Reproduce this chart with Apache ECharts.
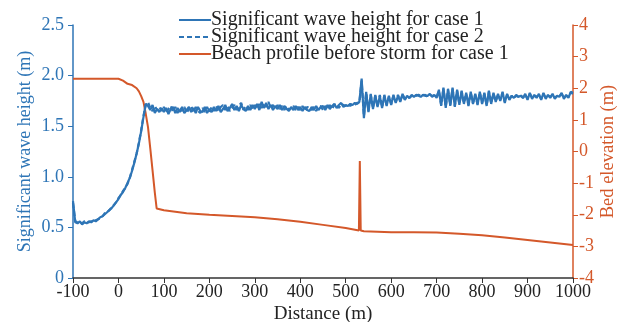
<!DOCTYPE html>
<html>
<head>
<meta charset="utf-8">
<script src="https://cdn.jsdelivr.net/npm/echarts@6/dist/echarts.min.js"></script>
<style>html,body{margin:0;padding:0;background:#fff}#c{width:623px;height:322px}</style>
</head>
<body>
<div id="c"></div>
<script>
const seriesNames = ['Significant wave height for case 1', 'Significant wave height for case 2', 'Beach profile before storm for case 1'];
const xTicks = [-100, 0, 100, 200, 300, 400, 500, 600, 700, 800, 900, 1000];
const leftTicks = [0, 0.5, 1.0, 1.5, 2.0, 2.5];
const rightTicks = [-4, -3, -2, -1, 0, 1, 2, 3, 4];

const waveDist = [
-100,-95,-90,-85,-80,-75,-70,-65,-60,-55,
-50,-45,-40,-35,-30,-25,-20,-15,-10,-5,
0,5,10,15,20,25,30,35,40,45,
50,55,60,65,70,75,80,85,90,95,
100,105,110,115,120,125,130,135,140,145,
150,155,160,165,170,175,180,185,190,195,
200,205,210,215,220,225,230,235,240,245,
250,255,260,265,270,275,280,285,290,295,
300,305,310,315,320,325,330,335,340,345,
350,355,360,365,370,375,380,385,390,395,
400,405,410,415,420,425,430,435,440,445,
450,455,460,465,470,475,480,485,490,495,
500,505,510,515,520,525,530,535,540,545,
550,555,560,565,570,575,580,585,590,595,
600,605,610,615,620,625,630,635,640,645,
650,655,660,665,670,675,680,685,690,695,
700,705,710,715,720,725,730,735,740,745,
750,755,760,765,770,775,780,785,790,795,
800,805,810,815,820,825,830,835,840,845,
850,855,860,865,870,875,880,885,890,895,
900,905,910,915,920,925,930,935,940,945,
950,955,960,965,970,975,980,985,990,995,
1000];

const hsCase1 = [
0.76,0.55,0.54,0.56,0.53,0.55,0.54,0.56,0.55,0.57,
0.56,0.58,0.60,0.61,0.63,0.65,0.67,0.69,0.72,0.75,
0.78,0.82,0.85,0.89,0.94,0.99,1.06,1.14,1.23,1.33,
1.45,1.59,1.72,1.70,1.66,1.71,1.63,1.67,1.64,1.68,
1.64,1.68,1.62,1.67,1.69,1.63,1.68,1.64,1.69,1.63,
1.66,1.69,1.64,1.68,1.63,1.69,1.65,1.64,1.69,1.63,
1.67,1.64,1.69,1.65,1.70,1.64,1.67,1.71,1.65,1.68,
1.72,1.66,1.70,1.65,1.71,1.67,1.65,1.70,1.66,1.71,
1.67,1.72,1.66,1.74,1.68,1.73,1.67,1.71,1.66,1.70,
1.67,1.71,1.66,1.70,1.67,1.65,1.69,1.66,1.70,1.66,
1.69,1.65,1.69,1.66,1.65,1.69,1.66,1.70,1.66,1.69,
1.70,1.66,1.71,1.67,1.70,1.72,1.68,1.71,1.73,1.69,
1.71,1.70,1.72,1.71,1.73,1.72,1.74,1.97,1.58,1.84,
1.64,1.82,1.67,1.81,1.69,1.80,1.68,1.81,1.70,1.80,
1.71,1.81,1.73,1.80,1.74,1.82,1.76,1.80,1.78,1.81,
1.79,1.81,1.80,1.79,1.81,1.80,1.80,1.82,1.79,1.81,
1.78,1.86,1.70,1.88,1.68,1.87,1.70,1.88,1.69,1.86,
1.71,1.85,1.72,1.83,1.70,1.84,1.72,1.82,1.71,1.84,
1.72,1.83,1.70,1.85,1.72,1.83,1.74,1.82,1.75,1.84,
1.73,1.82,1.76,1.80,1.78,1.81,1.79,1.80,1.78,1.82,
1.76,1.83,1.77,1.81,1.78,1.82,1.76,1.83,1.77,1.81,
1.78,1.82,1.77,1.80,1.79,1.83,1.77,1.81,1.78,1.84,
1.83];

const hsCase2 = [
0.74,0.56,0.55,0.55,0.54,0.56,0.55,0.55,0.56,0.56,
0.57,0.58,0.59,0.61,0.64,0.65,0.67,0.70,0.72,0.75,
0.79,0.82,0.86,0.89,0.93,0.99,1.07,1.15,1.23,1.34,
1.46,1.60,1.71,1.74,1.68,1.65,1.70,1.66,1.69,1.65,
1.69,1.63,1.67,1.70,1.64,1.69,1.63,1.68,1.65,1.69,
1.63,1.67,1.70,1.64,1.69,1.65,1.63,1.68,1.64,1.69,
1.64,1.69,1.65,1.70,1.65,1.69,1.71,1.66,1.70,1.65,
1.68,1.71,1.66,1.70,1.73,1.66,1.70,1.66,1.71,1.67,
1.71,1.67,1.72,1.68,1.73,1.69,1.74,1.68,1.71,1.67,
1.71,1.67,1.70,1.66,1.70,1.66,1.68,1.70,1.66,1.69,
1.66,1.70,1.65,1.69,1.68,1.66,1.69,1.65,1.69,1.70,
1.66,1.70,1.67,1.71,1.67,1.71,1.72,1.68,1.72,1.71,
1.70,1.72,1.70,1.72,1.71,1.73,1.73,1.95,1.60,1.83,
1.65,1.81,1.68,1.80,1.69,1.81,1.69,1.80,1.71,1.79,
1.72,1.80,1.74,1.81,1.75,1.81,1.77,1.79,1.78,1.80,
1.80,1.80,1.81,1.80,1.80,1.81,1.79,1.81,1.80,1.80,
1.79,1.85,1.71,1.87,1.69,1.86,1.71,1.87,1.70,1.85,
1.72,1.84,1.73,1.82,1.71,1.83,1.73,1.81,1.72,1.83,
1.73,1.82,1.71,1.84,1.73,1.82,1.75,1.81,1.76,1.83,
1.74,1.81,1.77,1.80,1.78,1.80,1.79,1.81,1.78,1.81,
1.77,1.82,1.78,1.80,1.79,1.81,1.77,1.82,1.78,1.80,
1.79,1.81,1.78,1.80,1.80,1.82,1.78,1.80,1.79,1.83,
1.82];

const bedDist = [-100, 0, 10, 20, 30, 40, 45, 50, 55, 60, 65, 70, 75, 80, 84, 100, 150, 200, 250, 300, 350, 400, 450, 500, 529, 531, 533, 540, 600, 650, 700, 750, 800, 850, 900, 950, 1000];
const bedElev = [2.30, 2.30, 2.24, 2.14, 2.10, 2.00, 1.90, 1.75, 1.57, 1.20, 0.77, 0.10, -0.60, -1.30, -1.80, -1.86, -1.95, -2.00, -2.04, -2.08, -2.14, -2.22, -2.32, -2.42, -2.50, -0.30, -2.50, -2.52, -2.55, -2.55, -2.56, -2.60, -2.65, -2.72, -2.80, -2.88, -2.96];

const BLUE = '#2E75B6';
const ORANGE = '#D4582A';
const FONT = 'Liberation Serif';

const pair = (xs, ys) => xs.map((x, i) => [x, ys[i]]);

const chart = echarts.init(document.getElementById('c'), null, {renderer: 'canvas'});
chart.setOption({
  animation: false,
  backgroundColor: '#fff',
  textStyle: {fontFamily: FONT},
  grid: {left: 73, right: 50, top: 25, bottom: 44, containLabel: false, outerBoundsMode: 'none'},
  legend: {
    orient: 'vertical',
    left: 178,
    top: 10,
    itemWidth: 32,
    itemHeight: 10,
    itemGap: -3,
    padding: 0,
    itemStyle: {opacity: 0},
    textStyle: {fontFamily: FONT, fontSize: 20, color: '#222', lineHeight: 15, padding: [0, 0, 0, -5]},
    data: seriesNames
  },
  xAxis: {
    type: 'value',
    min: -100, max: 1000, interval: 100,
    name: 'Distance (m)', nameLocation: 'middle', nameGap: 27, nameMoveOverlap: false,
    nameTextStyle: {fontFamily: FONT, fontSize: 19, color: '#222'},
    axisLine: {onZero: false, lineStyle: {color: '#333', width: 1.5}},
    axisTick: {inside: false, length: 5, lineStyle: {color: '#333'}},
    axisLabel: {fontFamily: FONT, fontSize: 18, color: '#222', margin: 5,
      customValues: xTicks, formatter: v => String(v)},
    splitLine: {show: false}
  },
  yAxis: [{
    type: 'value', position: 'left',
    min: 0, max: 2.5, interval: 0.5,
    name: 'Significant wave height (m)', nameLocation: 'middle', nameGap: 39, nameMoveOverlap: false,
    nameTextStyle: {fontFamily: FONT, fontSize: 18, color: BLUE},
    axisLine: {show: true, onZero: false, lineStyle: {color: BLUE, width: 1.5}},
    axisTick: {show: true, length: 5, lineStyle: {color: BLUE}},
    axisLabel: {fontFamily: FONT, fontSize: 18, color: BLUE, margin: 9,
      formatter: v => (v === 0 ? '0' : v.toFixed(1))},
    splitLine: {show: false}
  }, {
    type: 'value', position: 'right',
    min: -4, max: 4, interval: 1,
    name: 'Bed elevation (m)', nameLocation: 'middle', nameGap: 26, nameMoveOverlap: false,
    nameTextStyle: {fontFamily: FONT, fontSize: 18.5, color: ORANGE},
    axisLine: {show: true, onZero: false, lineStyle: {color: ORANGE, width: 1.5}},
    axisTick: {show: true, length: 5, lineStyle: {color: ORANGE}},
    axisLabel: {fontFamily: FONT, fontSize: 18, color: ORANGE, margin: 6},
    splitLine: {show: false}
  }],
  series: [{
    name: seriesNames[0], type: 'line', yAxisIndex: 0,
    data: pair(waveDist, hsCase1), showSymbol: false, symbol: 'none',
    lineStyle: {color: BLUE, width: 2.2}, itemStyle: {color: BLUE}, z: 3
  }, {
    name: seriesNames[1], type: 'line', yAxisIndex: 0,
    data: pair(waveDist, hsCase2), showSymbol: false, symbol: 'none',
    lineStyle: {color: BLUE, width: 2.2, type: [5, 3]}, itemStyle: {color: BLUE}, z: 3
  }, {
    name: seriesNames[2], type: 'line', yAxisIndex: 1,
    data: pair(bedDist, bedElev), showSymbol: false, symbol: 'none',
    lineStyle: {color: ORANGE, width: 2}, itemStyle: {color: ORANGE}, z: 2
  }]
});
</script>
</body>
</html>
